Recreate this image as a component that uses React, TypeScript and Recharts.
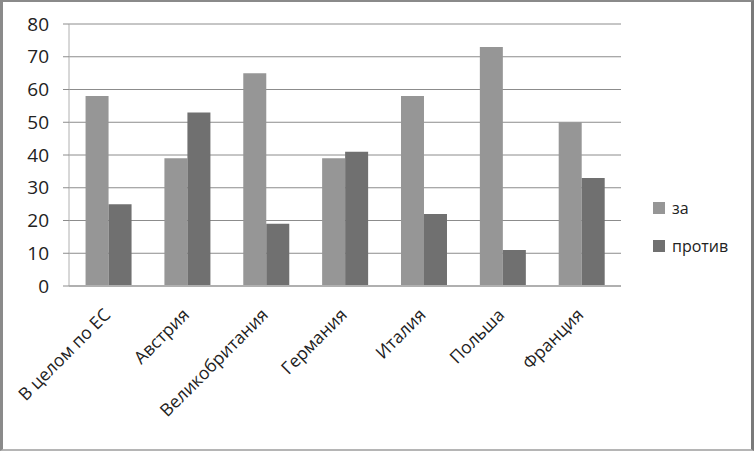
// Survey chart: "за" / "против" by country, grouped bars on a grey frame.
import { BarChart, Bar, XAxis, YAxis, CartesianGrid } from "recharts";

const categories = [
  "В целом по ЕС",
  "Австрия",
  "Великобритания",
  "Германия",
  "Италия",
  "Польша",
  "Франция",
];
const forValues = [58, 39, 65, 39, 58, 73, 50];
const againstValues = [25, 53, 19, 41, 22, 11, 33];
const yTicks = [0, 10, 20, 30, 40, 50, 60, 70, 80];
const boundaryTicks = [0, 1, 2, 3, 4, 5, 6, 7];
const seriesNames = ["за", "против"];

const FONT = "'Open Sans', 'Noto Sans', sans-serif";
const FOR_COLOR = "#969696";
const AGAINST_COLOR = "#707070";

const data = categories.map((name, i) => ({
  name,
  za: forValues[i],
  protiv: againstValues[i],
}));

function CategoryTick(props: any) {
  const { x, y, payload } = props;
  const ax = x + 3;
  const ay = y + 22;
  return (
    <text
      x={ax}
      y={ay}
      transform={`rotate(-45 ${ax} ${ay})`}
      textAnchor="end"
      fontSize={17.5}
      fontFamily={FONT}
      fill="#222"
    >
      {payload.value}
    </text>
  );
}

export default function App() {
  return (
    <div
      style={{
        position: "absolute",
        left: 0,
        top: 0,
        width: 754,
        height: 451,
        boxSizing: "border-box",
        borderTop: "2px solid #8a8a8a",
        borderLeft: "3px solid #8a8a8a",
        borderRight: "3px solid #7a7a7a",
        borderBottom: "2px solid #b5b5b5",
        background: "#fff",
      }}
    >
      <div style={{ position: "absolute", left: -3, top: -2 }}>
        <BarChart
          width={754}
          height={451}
          data={data}
          margin={{ top: 24, right: 133, bottom: 0, left: 0 }}
          barCategoryGap="21%"
          barGap={0}
        >
          <CartesianGrid vertical={false} stroke="#8c8c8c" />
          <XAxis
            xAxisId="bounds"
            type="number"
            domain={[0, 7]}
            ticks={boundaryTicks}
            tick={false}
            tickSize={6}
            height={0}
            axisLine={false}
            tickLine={{ stroke: "#9a9a9a" }}
          />
          <XAxis
            dataKey="name"
            height={165}
            interval={0}
            axisLine={{ stroke: "#b0b0b0", strokeWidth: 2 }}
            tickLine={false}
            tick={<CategoryTick />}
          />
          <YAxis
            domain={[0, 80]}
            ticks={yTicks}
            width={69}
            tickSize={6}
            tickMargin={14}
            axisLine={{ stroke: "#b0b0b0" }}
            tickLine={{ stroke: "#8c8c8c" }}
            tick={{ fontSize: 19, fontFamily: FONT, fill: "#222" }}
          />
          <Bar dataKey="za" fill={FOR_COLOR} isAnimationActive={false} />
          <Bar dataKey="protiv" fill={AGAINST_COLOR} isAnimationActive={false} />
        </BarChart>
      </div>
      <div
        style={{
          position: "absolute",
          left: 650,
          top: 187,
          fontFamily: FONT,
          fontSize: 16,
          color: "#222",
          lineHeight: "38px",
        }}
      >
        {seriesNames.map((s, i) => (
          <div key={s} style={{ display: "flex", alignItems: "center" }}>
            <span
              style={{
                display: "inline-block",
                width: 12,
                height: 12,
                marginRight: 7,
                background: i === 0 ? FOR_COLOR : AGAINST_COLOR,
              }}
            />
            {s}
          </div>
        ))}
      </div>
    </div>
  );
}
